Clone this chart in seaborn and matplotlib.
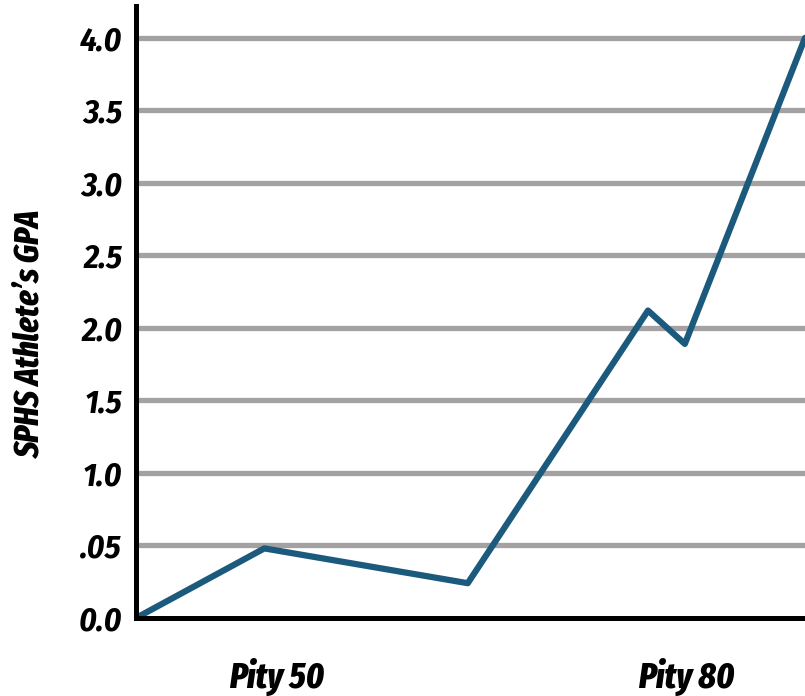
import matplotlib
matplotlib.use("Agg")
import matplotlib.pyplot as plt
import seaborn as sns
import pandas as pd

pity = [39.7, 49.1, 64.0, 77.2, 79.9, 88.7]
gpa = [0.0, 0.48, 0.24, 2.12, 1.89, 4.0]
ytick_vals = [0.0, 0.5, 1.0, 1.5, 2.0, 2.5, 3.0, 3.5, 4.0]
ytick_labels = ["0.0", ".05", "1.0", "1.5", "2.0", "2.5", "3.0", "3.5", "4.0"]
xtick_vals = [50, 80]
xtick_labels = ["Pity 50", "Pity 80"]
ylabel = "SPHS Athlete\u2019s GPA"

sns.set_style("white")
plt.rcParams["font.family"] = ["Fira Sans Condensed", "DejaVu Sans"]
plt.rcParams["text.color"] = "black"
plt.rcParams["axes.labelcolor"] = "black"
plt.rcParams["xtick.color"] = "black"
plt.rcParams["ytick.color"] = "black"
label_family = ["Fira Sans Extra Condensed", "DejaVu Sans"]

df = pd.DataFrame({"pity": pity, "gpa": gpa})

fig = plt.figure(figsize=(8.05, 6.96), dpi=100)
ax = fig.add_axes([136 / 805, (696 - 618) / 696, 1 - 136 / 805, (618 - 6) / 696])

for v in ytick_vals[1:]:
    ax.axhline(v, color="#a3a1a1", lw=3.8, zorder=1)

sns.lineplot(data=df, x="pity", y="gpa", ax=ax, color="#1b5a7d", lw=4.5, zorder=3)

ax.set_xlim(39.7, 88.7)
ax.set_ylim(0, 4.22)
ax.set_yticks(ytick_vals)
ax.set_yticklabels(ytick_labels, fontsize=24, fontweight="bold", fontstyle="italic")
ax.set_xticks(xtick_vals)
ax.set_xticklabels(xtick_labels, fontsize=26, fontweight="heavy", fontstyle="italic",
                   family=label_family)
ax.tick_params(axis="y", length=0, pad=10)
ax.tick_params(axis="x", length=0, pad=29)
ax.set_xlabel("")
ax.set_ylabel(ylabel, fontsize=24.5, fontweight="heavy", fontstyle="italic", family=label_family)
ax.yaxis.set_label_coords(-0.133, 0.463)

for s in ["top", "right"]:
    ax.spines[s].set_visible(False)
for s in ["left", "bottom"]:
    ax.spines[s].set_color("black")
    ax.spines[s].set_linewidth(3.6)
    ax.spines[s].set_zorder(4)

fig.savefig("out.png", dpi=100)
